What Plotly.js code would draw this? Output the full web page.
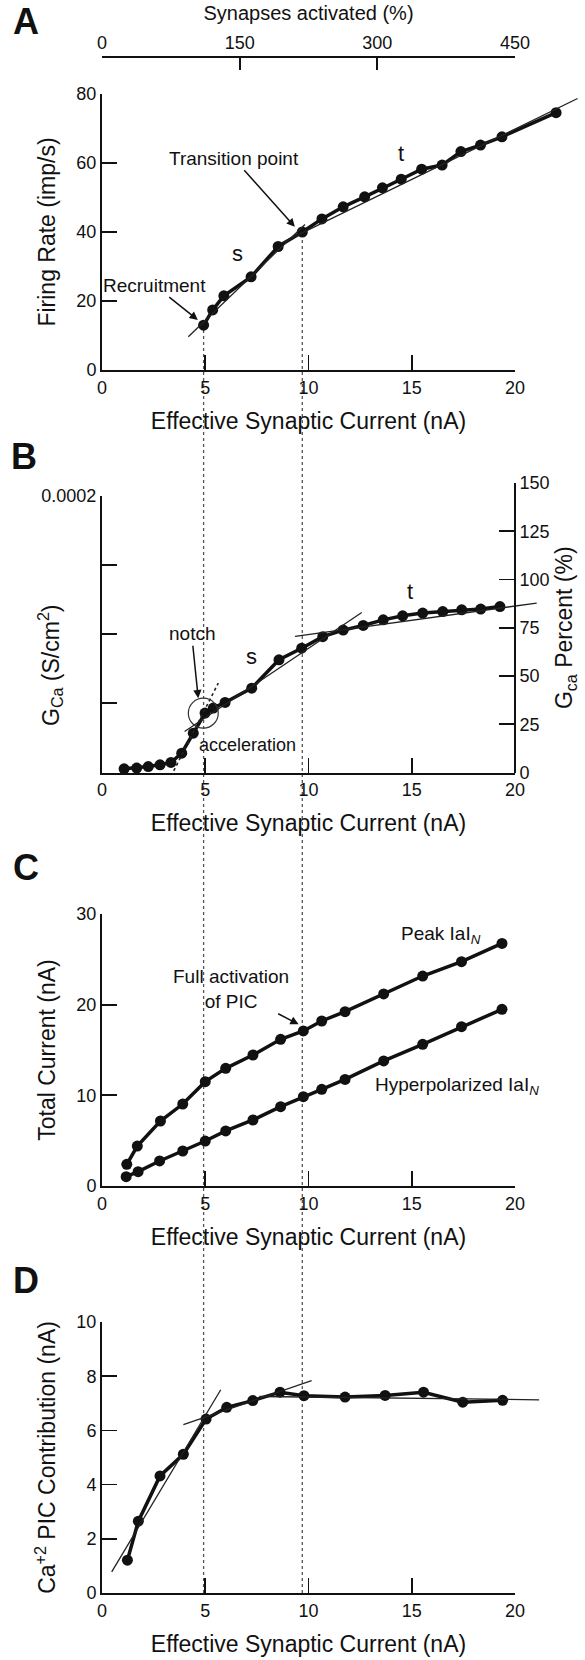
<!DOCTYPE html>
<html>
<head>
<meta charset="utf-8">
<script src="https://cdn.plot.ly/plotly-3.0.1.min.js"></script>
<style>html,body{margin:0;padding:0;background:#fff;}</style>
</head>
<body>
<div id="chart" style="width:585px;height:1660px;"></div>
<script>
// ---------- Panel A: firing rate ----------
const rateX = [4.92, 5.36, 5.90, 7.22, 8.53, 9.70, 10.65, 11.68, 12.72, 13.58, 14.49, 15.48, 16.47, 17.38, 18.33, 19.37, 21.99];
const rateY = [13.0, 17.4, 21.5, 27.0, 35.8, 40.0, 43.8, 47.3, 50.2, 52.8, 55.3, 58.2, 59.4, 63.3, 65.2, 67.6, 74.6];
const rateFitSX = [4.18, 9.83];
const rateFitSY = [9.65, 42.2];
const rateFitTX = [8.75, 23.03];
const rateFitTY = [37.0, 78.7];
const synTicks = [0, 150, 300, 450];

// ---------- Panel B: Ca conductance ----------
const gcaX = [1.07, 1.68, 2.24, 2.81, 3.34, 3.86, 4.42, 4.99, 5.39, 5.96, 7.25, 8.57, 9.67, 10.69, 11.68, 12.65, 13.62, 14.56, 15.53, 16.50, 17.42, 18.34, 19.27];
const gcaPct = [1.9, 2.3, 3.1, 4.0, 5.2, 10.0, 20.4, 30.8, 33.4, 36.3, 43.7, 58.4, 64.4, 70.4, 73.8, 76.2, 79.1, 81.2, 82.6, 83.4, 84.3, 84.7, 86.0];
const gcaFitSX = [4.0, 12.58];
const gcaFitSY = [21.2, 82.9];
const gcaFitTX = [9.35, 21.05];
const gcaFitTY = [70.5, 87.8];
const gcaAccelX = [3.21, 5.63];
const gcaAccelY = [-4.7, 46.3];
const gcaLeftMajor = [0.0002];
const gcaLeftMinor = [0.00005, 0.0001, 0.00015];
const gcaPctTicks = [0, 25, 50, 75, 100, 125, 150];

// ---------- Panel C: total current ----------
const peakX = [1.20, 1.71, 2.83, 3.91, 5.00, 5.99, 7.31, 8.65, 9.75, 10.64, 11.77, 13.64, 15.53, 17.41, 19.37];
const peakY = [2.39, 4.41, 7.17, 9.04, 11.51, 12.98, 14.45, 16.18, 17.10, 18.20, 19.23, 21.18, 23.16, 24.74, 26.76];
const hyperX = [1.17, 1.75, 2.79, 3.91, 5.00, 5.99, 7.31, 8.65, 9.75, 10.64, 11.77, 13.64, 15.53, 17.41, 19.37];
const hyperY = [1.03, 1.58, 2.76, 3.86, 4.96, 6.07, 7.28, 8.75, 9.85, 10.66, 11.76, 13.79, 15.63, 17.57, 19.49];

// ---------- Panel D: Ca PIC contribution ----------
const picX = [1.23, 1.76, 2.81, 3.94, 5.04, 6.04, 7.30, 8.62, 9.78, 11.77, 13.71, 15.57, 17.47, 19.40];
const picY = [1.21, 2.65, 4.32, 5.12, 6.42, 6.85, 7.10, 7.41, 7.28, 7.23, 7.29, 7.41, 7.04, 7.11];
const picFit1X = [0.47, 5.75];
const picFit1Y = [0.78, 7.50];
const picFit2X = [3.94, 10.15];
const picFit2Y = [6.21, 7.84];
const picFit3X = [7.62, 21.17];
const picFit3Y = [7.25, 7.13];

const xTicks = [0, 5, 10, 15, 20];

// ---------- geometry helpers ----------
const W = 585, H = 1660;
const px = v => v / W;
const py = v => 1 - v / H;
const X0 = 102, UNIT = 20.65, XMAX = 23.2;
const dataDom = [px(X0), px(X0 + XMAX * UNIT)];
const decoDom = [px(X0), px(X0 + 20 * UNIT)];
const domA = [py(370), py(94)];
const domBpct = [py(772.5), py(483)];
const domBleft = [py(772.5), py(496)];
const domC = [py(1186), py(914)];
const domD = [py(1593), py(1322)];

const FONT = 'Liberation Sans, Arial, Helvetica, sans-serif';
const INK = '#111';
const titleFont = {family: FONT, size: 23, color: INK};

function axisBase(extra) {
  return Object.assign({
    showline: true, linecolor: INK, linewidth: 2,
    ticks: 'inside', ticklen: 15, tickwidth: 1.8, tickcolor: INK,
    showgrid: false, zeroline: false, fixedrange: true,
    tickfont: {family: FONT, size: 18, color: INK}
  }, extra);
}
function hiddenX(anchor) {
  return {domain: dataDom, range: [0, XMAX], visible: false, anchor: anchor, fixedrange: true};
}
function decoX(anchor) {
  return axisBase({
    domain: decoDom, range: [0, 20], tickmode: 'array', tickvals: xTicks, anchor: anchor,
    title: {text: 'Effective Synaptic Current (nA)', font: titleFont, standoff: 16}
  });
}

const dataLine = {color: INK, width: 3.5};
const dataMarker = {size: 11, color: INK};
const fitLine = {color: '#222', width: 1.3};

function series(x, y, xa, ya, name) {
  return {x: x, y: y, xaxis: xa, yaxis: ya, name: name, mode: 'lines+markers',
          line: dataLine, marker: dataMarker, cliponaxis: false, showlegend: false, hoverinfo: 'x+y'};
}
function fit(x, y, xa, ya, dash) {
  return {x: x, y: y, xaxis: xa, yaxis: ya, mode: 'lines',
          line: Object.assign({}, fitLine, dash ? {dash: dash, width: 1.6} : {}),
          showlegend: false, hoverinfo: 'skip'};
}
// transparent frame trace so that each axis-only subplot (axis line 0-20, top axis, left GCa axis) is drawn
function frame(xa, ya, xs, ys) {
  return {x: xs, y: ys, xaxis: xa, yaxis: ya, mode: 'markers',
          marker: {size: 1, opacity: 0}, showlegend: false, hoverinfo: 'skip'};
}

const traces = [
  frame('x2', 'y', [0, 20], [0, 0]),
  frame('x3', 'y', [0, 450], [0, 0]),
  frame('x5', 'y3', [0, 20], [0, 0]),
  frame('x7', 'y4', [0, 20], [0, 0]),
  frame('x9', 'y5', [0, 20], [0, 0]),

  series(rateX, rateY, 'x', 'y', 'Firing rate'),
  fit(rateFitSX, rateFitSY, 'x', 'y'),
  fit(rateFitTX, rateFitTY, 'x', 'y'),

  series(gcaX, gcaPct, 'x4', 'y2', 'GCa'),
  fit(gcaFitSX, gcaFitSY, 'x4', 'y2'),
  fit(gcaFitTX, gcaFitTY, 'x4', 'y2'),
  fit(gcaAccelX, gcaAccelY, 'x4', 'y2', 'dot'),

  series(peakX, peakY, 'x6', 'y4', 'Peak IaI_N'),
  series(hyperX, hyperY, 'x6', 'y4', 'Hyperpolarized IaI_N'),

  series(picX, picY, 'x8', 'y5', 'Ca PIC'),
  fit(picFit1X, picFit1Y, 'x8', 'y5'),
  fit(picFit2X, picFit2Y, 'x8', 'y5'),
  fit(picFit3X, picFit3Y, 'x8', 'y5')
];

// guide lines from panel A points down to panel D axis
const yA = v => domA[0] + v / 80 * (domA[1] - domA[0]);
const guideIdx = [0, 5];
const shapes = guideIdx.map(i => ({
  type: 'line', xref: 'x', yref: 'paper', layer: 'below',
  x0: rateX[i], x1: rateX[i], y0: domD[0], y1: yA(rateY[i]),
  line: {color: '#555', width: 1.3, dash: 'dot'}
}));
shapes.push({
  type: 'circle', xref: 'x4', yref: 'y2', x0: 4.18, x1: 5.63, y0: 23.0, y1: 38.5,
  line: {color: '#333', width: 1.2}
});

const annFont = {family: FONT, size: 19, color: INK};
function label(text, x, y, xa, ya, size) {
  return {text: text, x: x, y: y, xref: xa, yref: ya, showarrow: false,
          xanchor: 'center', yanchor: 'middle',
          font: Object.assign({}, annFont, size ? {size: size} : {})};
}
// text centred at (tx,ty), arrow pointing to (hx,hy)
function callout(text, tx, ty, hx, hy, xa, ya, size) {
  return {text: text, x: hx, y: hy, ax: tx, ay: ty, xref: xa, yref: ya, axref: xa, ayref: ya,
          showarrow: true, arrowhead: 2, arrowsize: 1.1, arrowwidth: 1.5, arrowcolor: INK, standoff: 0,
          font: Object.assign({}, annFont, size ? {size: size} : {})};
}
function panelLetter(t, cx, cy) {
  return {text: '<b>' + t + '</b>', x: px(cx), y: py(cy), xref: 'paper', yref: 'paper',
          showarrow: false, xanchor: 'center', yanchor: 'middle',
          font: {family: FONT, size: 36, color: INK}};
}

const annotations = [
  panelLetter('A', 25.5, 21.5),
  panelLetter('B', 24, 456),
  panelLetter('C', 26, 867.5),
  panelLetter('D', 26, 1280.5),

  callout('Transition point', 6.37, 61.4, 9.34, 41.5, 'x', 'y'),
  callout('Recruitment', 2.53, 24.6, 4.64, 14.5, 'x', 'y'),
  label('s', 6.54, 33.8, 'x', 'y', 22),
  label('t', 14.48, 62.8, 'x', 'y', 22),

  callout('notch', 4.34, 71.9, 4.66, 38.5, 'x4', 'y2'),
  label('acceleration', 7.05, 14.4, 'x4', 'y2', 18),
  label('s', 7.25, 60.1, 'x4', 'y2', 22),
  label('t', 14.92, 93.8, 'x4', 'y2', 22),
  {text: 'G<sub>Ca</sub> (S/cm<sup>2</sup>)', x: px(50), y: py(665), xref: 'paper', yref: 'paper',
   showarrow: false, textangle: -90, xanchor: 'center', yanchor: 'middle', font: titleFont},

  label('Peak IaI<sub><i>N</i></sub>', 16.42, 27.7, 'x6', 'y4'),
  callout('Full activation<br>of PIC', 6.25, 21.7, 9.52, 17.83, 'x6', 'y4'),
  label('Hyperpolarized IaI<sub><i>N</i></sub>', 17.19, 11.0, 'x6', 'y4')
];

const layout = {
  width: W, height: H,
  margin: {l: 0, r: 0, t: 0, b: 0},
  paper_bgcolor: '#fff', plot_bgcolor: 'rgba(0,0,0,0)',
  showlegend: false,
  font: {family: FONT, color: INK},

  // Panel A
  xaxis: hiddenX('y'),
  yaxis: axisBase({domain: domA, range: [0, 80], tickmode: 'array', tickvals: [0, 20, 40, 60, 80], anchor: 'x',
                   title: {text: 'Firing Rate (imp/s)', font: titleFont, standoff: 14}}),
  xaxis2: decoX('y'),
  xaxis3: axisBase({overlaying: 'x2', side: 'top', anchor: 'free', position: py(56.7), range: [0, 450],
                    tickmode: 'array', tickvals: synTicks, ticklen: 12,
                    title: {text: 'Synapses activated (%)', font: {family: FONT, size: 20, color: INK}, standoff: 6}}),

  // Panel B
  xaxis4: hiddenX('y2'),
  yaxis2: axisBase({domain: domBpct, range: [0, 150], tickmode: 'array', tickvals: gcaPctTicks,
                    anchor: 'free', position: px(X0 + 20 * UNIT), side: 'right',
                    title: {text: 'G<sub>ca</sub> Percent (%)', font: titleFont, standoff: 6}}),
  xaxis5: decoX('y3'),
  yaxis3: axisBase({domain: domBleft, range: [0, 0.0002], tickmode: 'array', tickvals: gcaLeftMajor,
                    ticktext: ['0.0002'], anchor: 'x5',
                    minor: {tickmode: 'array', tickvals: gcaLeftMinor, ticks: 'inside', ticklen: 15,
                            tickwidth: 1.8, tickcolor: INK, showgrid: false}}),

  // Panel C
  xaxis6: hiddenX('y4'),
  yaxis4: axisBase({domain: domC, range: [0, 30], tickmode: 'array', tickvals: [0, 10, 20, 30], anchor: 'x6',
                    title: {text: 'Total Current (nA)', font: titleFont, standoff: 14}}),
  xaxis7: decoX('y4'),

  // Panel D
  xaxis8: hiddenX('y5'),
  yaxis5: axisBase({domain: domD, range: [0, 10], tickmode: 'array', tickvals: [0, 2, 4, 6, 8, 10], anchor: 'x8',
                    title: {text: 'Ca<sup>+2</sup> PIC Contribution (nA)', font: titleFont, standoff: 14}}),
  xaxis9: decoX('y5'),

  shapes: shapes,
  annotations: annotations
};

Plotly.newPlot('chart', traces, layout, {displayModeBar: false, staticPlot: true});
</script>
</body>
</html>
